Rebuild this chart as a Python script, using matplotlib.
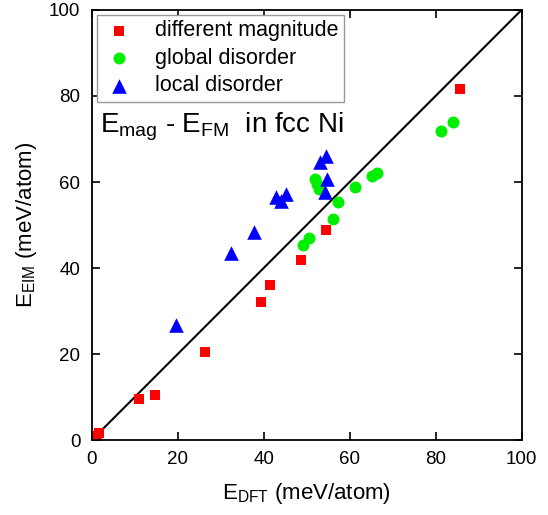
import matplotlib
matplotlib.use('Agg')
import matplotlib.pyplot as plt

plt.rcParams['font.family'] = ['Liberation Sans', 'DejaVu Sans']
plt.rcParams['mathtext.fontset'] = 'custom'
plt.rcParams['mathtext.rm'] = 'Liberation Sans'

# different magnitude (red squares)
mag_x = [1.2, 1.8, 11.0, 14.7, 26.4, 39.3, 41.6, 48.8, 54.5, 85.7]
mag_y = [1.0, 1.6, 9.5, 10.5, 20.5, 32.2, 36.0, 41.9, 48.8, 81.7]

# global disorder (green circles)
glob_x = [49.2, 50.6, 52.0, 52.3, 52.8, 56.1, 57.4, 61.3, 65.1, 66.3, 81.2, 84.0]
glob_y = [45.3, 47.0, 60.6, 59.5, 58.4, 51.3, 55.3, 58.8, 61.5, 62.0, 71.9, 73.9]

# local disorder (blue triangles)
loc_x = [19.6, 32.5, 37.7, 43.0, 44.1, 45.2, 53.0, 54.4, 54.8, 54.2]
loc_y = [26.7, 43.4, 48.3, 56.6, 55.6, 57.1, 64.7, 66.1, 60.7, 57.6]

fig = plt.figure(figsize=(5.48, 5.15), dpi=100)
ax = fig.add_axes([0.167, 0.145, 0.785, 0.836])

ax.plot([0, 100], [0, 100], color='black', lw=1.5, zorder=1)
ax.scatter(mag_x, mag_y, marker='s', s=7.7**2, color='#ff0000', linewidths=0,
           label='different magnitude', zorder=2)
ax.scatter(glob_x, glob_y, marker='o', s=8.6**2, color='#00ee00', linewidths=0,
           label='global disorder', zorder=3)
ax.scatter(loc_x, loc_y, marker='^', s=10.5**2, color='#0000ff', linewidths=0,
           label='local disorder', zorder=4)

ax.set_xlim(0, 100)
ax.set_ylim(0, 100)
ax.set_xticks([0, 20, 40, 60, 80, 100])
ax.set_yticks([0, 20, 40, 60, 80, 100])
ax.tick_params(direction='in', length=6, width=1.2, top=True, right=True,
               labelsize=13.5, pad=8)
for sp in ax.spines.values():
    sp.set_linewidth(1.3)

ax.set_xlabel('$\\mathregular{E_{DFT}}$ (meV/atom)', fontsize=16, labelpad=9)
ax.set_ylabel('$\\mathregular{E_{EIM}}$ (meV/atom)', fontsize=16, labelpad=7)

ax.text(2, 71.5, '$\\mathregular{E_{mag}}$ - $\\mathregular{E_{FM}}$  in fcc Ni',
        fontsize=20, va='baseline', ha='left')

leg = ax.legend(loc='upper left', bbox_to_anchor=(0.012, 0.988), borderaxespad=0,
                fontsize=15.5, fancybox=False, edgecolor='#999999', framealpha=1,
                handlelength=1.6, handletextpad=0.85, labelspacing=0.3,
                borderpad=0.25, scatterpoints=1)
leg.get_frame().set_linewidth(1.0)

fig.savefig('out.png', dpi=100)
